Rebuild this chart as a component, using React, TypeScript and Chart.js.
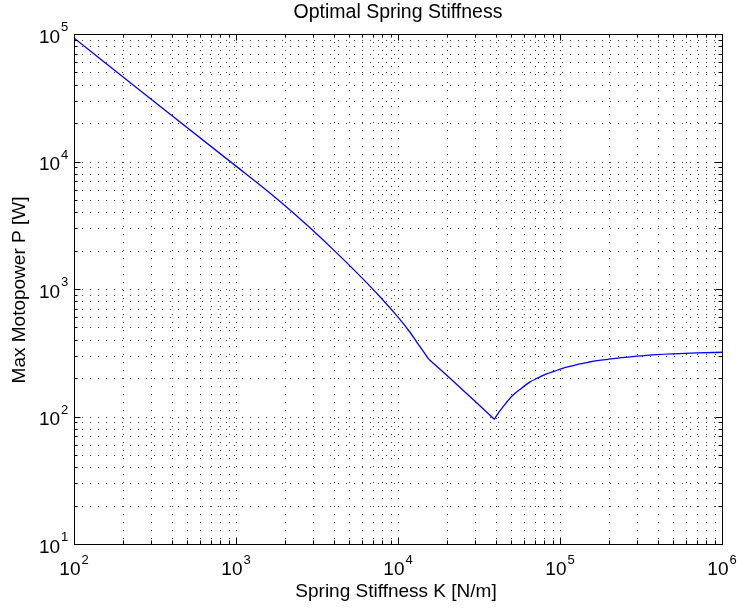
import { useEffect, useRef } from 'react';
import { Chart, registerables } from 'chart.js';

Chart.register(...registerables);

// ---- data ----
// branch 1: smooth decay up to the kink
const stiffnessA = [100, 316, 1000, 1413, 2000, 2818, 4000, 6310, 7943, 10000, 11860, 12590, 13000, 15500];
const powerA = [93000, 29200, 9200, 6515, 4520, 3076, 2028, 1143, 839, 601, 458, 411, 387, 281];
// branch 2: straight segment from kink to minimum
const stiffnessB = [15500, 20000, 30000, 39300];
const powerB = [281, 211, 131, 95];
// branch 3: recovery after the minimum
const stiffnessC = [39300, 42000, 45600, 51000, 57700, 65000, 73100, 82000, 92700, 105000, 117000, 130000, 149000, 170000, 198000, 250000, 343000, 500000, 700000, 1000000];
const powerC = [95, 108, 124, 146, 166, 186, 201, 215, 227, 240, 248, 257, 266, 274, 281, 291, 302, 310, 315, 319];

const xMajorTicks = [1e2, 1e3, 1e4, 1e5, 1e6];
const xExponents = ['2', '3', '4', '5', '6'];
const yMajorTicks = [1e1, 1e2, 1e3, 1e4, 1e5];
const yExponents = ['1', '2', '3', '4', '5'];
const minorMultipliers = [2, 3, 4, 5, 6, 7, 8, 9];

const titleText = 'Optimal Spring Stiffness';
const xLabel = 'Spring Stiffness K [N/m]';
const yLabel = 'Max Motopower P [W]';

const FONT = '"Liberation Sans", Arial, Helvetica, sans-serif';
const LINE_BLUE = '#0000ff';

function minorTicks(majors: number[]) {
  const out: number[] = [];
  for (let i = 0; i < majors.length - 1; i++) {
    for (const m of minorMultipliers) out.push(majors[i] * m);
  }
  return out;
}

const matlabAxes = {
  id: 'matlabAxes',
  beforeDatasetsDraw(chart: any) {
    const { ctx, chartArea: a, scales } = chart;
    const x = scales.x;
    const y = scales.y;
    ctx.save();
    ctx.strokeStyle = 'rgba(0,0,0,0.75)';
    ctx.lineWidth = 1;
    ctx.setLineDash([1, 7]);
    const xs = [...xMajorTicks, ...minorTicks(xMajorTicks)];
    const ys = [...yMajorTicks, ...minorTicks(yMajorTicks)];
    for (const v of xs) {
      const px = Math.round(x.getPixelForValue(v)) + 0.5;
      ctx.beginPath();
      ctx.moveTo(px, a.top);
      ctx.lineTo(px, a.bottom);
      ctx.stroke();
    }
    for (const v of ys) {
      const py = Math.round(y.getPixelForValue(v)) + 0.5;
      ctx.beginPath();
      ctx.moveTo(a.left, py);
      ctx.lineTo(a.right, py);
      ctx.stroke();
    }
    ctx.restore();
  },
  afterDatasetsDraw(chart: any) {
    const { ctx, chartArea: a, scales } = chart;
    const x = scales.x;
    const y = scales.y;
    ctx.save();
    ctx.strokeStyle = '#000';
    ctx.lineWidth = 1;
    ctx.setLineDash([]);
    ctx.strokeRect(Math.round(a.left) + 0.5, Math.round(a.top) + 0.5, Math.round(a.right - a.left), Math.round(a.bottom - a.top));
    const drawXTick = (v: number, len: number) => {
      const px = Math.round(x.getPixelForValue(v)) + 0.5;
      ctx.beginPath();
      ctx.moveTo(px, a.bottom);
      ctx.lineTo(px, a.bottom - len);
      ctx.moveTo(px, a.top);
      ctx.lineTo(px, a.top + len);
      ctx.stroke();
    };
    const drawYTick = (v: number, len: number) => {
      const py = Math.round(y.getPixelForValue(v)) + 0.5;
      ctx.beginPath();
      ctx.moveTo(a.left, py);
      ctx.lineTo(a.left + len, py);
      ctx.moveTo(a.right, py);
      ctx.lineTo(a.right - len, py);
      ctx.stroke();
    };
    xMajorTicks.forEach((v) => drawXTick(v, 6.5));
    minorTicks(xMajorTicks).forEach((v) => drawXTick(v, 3.5));
    yMajorTicks.forEach((v) => drawYTick(v, 6.5));
    minorTicks(yMajorTicks).forEach((v) => drawYTick(v, 3.5));

    ctx.fillStyle = '#000';
    ctx.textBaseline = 'alphabetic';
    ctx.textAlign = 'left';
    const baseFont = `19px ${FONT}`;
    const expFont = `13px ${FONT}`;
    xMajorTicks.forEach((v, i) => {
      const px = x.getPixelForValue(v);
      ctx.font = baseFont;
      const w1 = ctx.measureText('10').width;
      ctx.font = expFont;
      const w2 = ctx.measureText(xExponents[i]).width;
      const start = px - (w1 + 1 + w2) / 2;
      ctx.font = baseFont;
      ctx.fillText('10', start, a.bottom + 31);
      ctx.font = expFont;
      ctx.fillText(xExponents[i], start + w1 + 1, a.bottom + 19.5);
    });
    yMajorTicks.forEach((v, i) => {
      const py = y.getPixelForValue(v);
      ctx.font = baseFont;
      const w1 = ctx.measureText('10').width;
      ctx.font = expFont;
      const w2 = ctx.measureText(yExponents[i]).width;
      const right = a.left - 5.7;
      const start = right - w2 - 1 - w1;
      ctx.font = baseFont;
      ctx.fillText('10', start, py + 8.5);
      ctx.font = expFont;
      ctx.fillText(yExponents[i], start + w1 + 1, py - 3);
    });

    const cx = (a.left + a.right) / 2;
    const cy = (a.top + a.bottom) / 2;
    ctx.textAlign = 'center';
    ctx.font = `19.5px ${FONT}`;
    ctx.fillText(titleText, cx, 18.3);
    ctx.font = `19px ${FONT}`;
    ctx.fillText(xLabel, cx - 2, a.bottom + 52.7);
    ctx.save();
    ctx.translate(25, cy + 1);
    ctx.rotate(-Math.PI / 2);
    ctx.fillText(yLabel, 0, 0);
    ctx.restore();
    ctx.restore();
  },
};

function branch(ks: number[], ps: number[], mode: 'default' | 'monotone') {
  return {
    data: ks.map((k, i) => ({ x: k, y: ps[i] })),
    borderColor: LINE_BLUE,
    borderWidth: 1.3,
    pointRadius: 0,
    tension: 0,
    cubicInterpolationMode: mode,
    fill: false,
  };
}

export default function App() {
  const canvasRef = useRef<HTMLCanvasElement | null>(null);

  useEffect(() => {
    const canvas = canvasRef.current;
    if (!canvas) return;
    const chart = new Chart(canvas, {
      type: 'line',
      data: {
        datasets: [
          branch(stiffnessA, powerA, 'monotone'),
          branch(stiffnessB, powerB, 'default'),
          branch(stiffnessC, powerC, 'monotone'),
        ] as any,
      },
      options: {
        responsive: false,
        animation: false,
        devicePixelRatio: 1,
        layout: { padding: { left: 74, right: 15, top: 34, bottom: 66 } },
        plugins: {
          legend: { display: false },
          title: { display: false },
          tooltip: { enabled: false },
        },
        scales: {
          x: {
            type: 'logarithmic',
            min: 100,
            max: 1e6,
            ticks: { display: false, autoSkip: false },
            grid: { display: false, drawTicks: false },
            border: { display: false },
            afterFit: (s: any) => {
              s.height = 0;
            },
          },
          y: {
            type: 'logarithmic',
            min: 10,
            max: 1e5,
            ticks: { display: false, autoSkip: false },
            grid: { display: false, drawTicks: false },
            border: { display: false },
            afterFit: (s: any) => {
              s.width = 0;
            },
          },
        },
      },
      plugins: [matlabAxes],
    });
    return () => chart.destroy();
  }, []);

  return (
    <div style={{ position: 'fixed', left: 0, top: 0, width: 737, height: 610, background: '#fff' }}>
      <canvas ref={canvasRef} width={737} height={610} style={{ display: 'block' }} />
    </div>
  );
}
